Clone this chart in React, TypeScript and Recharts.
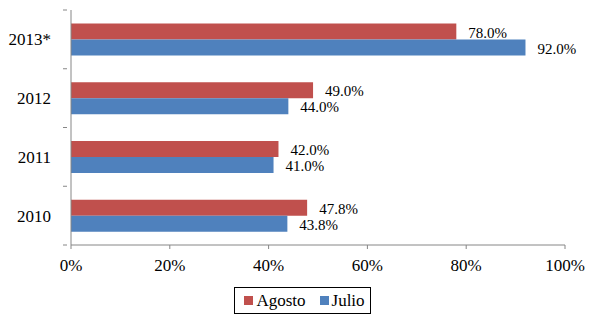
import { BarChart, Bar, XAxis, YAxis, Legend, LabelList } from "recharts";

const years = ["2013*", "2012", "2011", "2010"];
const agosto = [78.0, 49.0, 42.0, 47.8];
const julio = [92.0, 44.0, 41.0, 43.8];
const xTicks = [0, 20, 40, 60, 80, 100];

const data = years.map((year, i) => ({ year, agosto: agosto[i], julio: julio[i] }));

const FONT = "'Liberation Serif', 'Times New Roman', serif";
const AXIS = "#868686";
const FS = 17;

function YearTick(props: any) {
  const { x, y, payload, index, visibleTicksCount } = props;
  const half = payload?.offset ?? 0;
  const axisX = x + 4;
  const last = index === (visibleTicksCount ?? years.length) - 1;
  return (
    <g>
      <line x1={axisX - 4} x2={axisX} y1={y - half} y2={y - half} stroke={AXIS} />
      {last && <line x1={axisX - 4} x2={axisX} y1={y + half} y2={y + half} stroke={AXIS} />}
      <text x={x - 12} y={y} dy={6} textAnchor="end" fontFamily={FONT} fontSize={FS} fill="#000">
        {payload.value}
      </text>
    </g>
  );
}

function ValueLabel(props: any) {
  const { x, y, width, height, value } = props;
  return (
    <text
      x={Number(x) + Number(width) + 12}
      y={Number(y) + Number(height) / 2 + 6}
      fontFamily={FONT}
      fontSize={15}
      fill="#000"
    >
      {`${Number(value).toFixed(1)}%`}
    </text>
  );
}

function BoxLegend() {
  const items = [
    { name: "Agosto", color: "#C0504D" },
    { name: "Julio", color: "#4F81BD" },
  ];
  return (
    <div style={{ display: "flex", justifyContent: "center", paddingLeft: 30 }}>
      <div
        style={{
          display: "flex",
          alignItems: "center",
          height: 25,
          border: "1px solid #000",
          padding: "0 5px 0 9px",
          fontFamily: FONT,
          fontSize: FS,
          color: "#000",
          gap: 14,
        }}
      >
        {items.map((it) => (
          <span key={it.name} style={{ display: "flex", alignItems: "center" }}>
            <span style={{ width: 9, height: 9, background: it.color, marginRight: 3 }} />
            {it.name}
          </span>
        ))}
      </div>
    </div>
  );
}

export default function App() {
  return (
    <div style={{ position: "absolute", left: 0, top: 0, background: "#fff" }}>
      <BarChart
        width={590}
        height={315}
        data={data}
        layout="vertical"
        margin={{ top: 10, right: 25, bottom: 1, left: 10 }}
        barCategoryGap="23%"
        barGap={0}
      >
        <XAxis
          type="number"
          domain={[0, 100]}
          ticks={xTicks}
          tickFormatter={(v) => `${v}%`}
          stroke={AXIS}
          tickSize={4}
          tickMargin={10}
          height={42}
          tick={{ fill: "#000", fontFamily: FONT, fontSize: FS }}
          interval={0}
        />
        <YAxis
          type="category"
          dataKey="year"
          width={61}
          stroke={AXIS}
          tickLine={false}
          tick={<YearTick />}
          interval={0}
        />
        <Legend verticalAlign="bottom" content={<BoxLegend />} />
        <Bar dataKey="agosto" name="Agosto" fill="#C0504D" isAnimationActive={false}>
          <LabelList dataKey="agosto" content={<ValueLabel />} />
        </Bar>
        <Bar dataKey="julio" name="Julio" fill="#4F81BD" isAnimationActive={false}>
          <LabelList dataKey="julio" content={<ValueLabel />} />
        </Bar>
      </BarChart>
    </div>
  );
}
